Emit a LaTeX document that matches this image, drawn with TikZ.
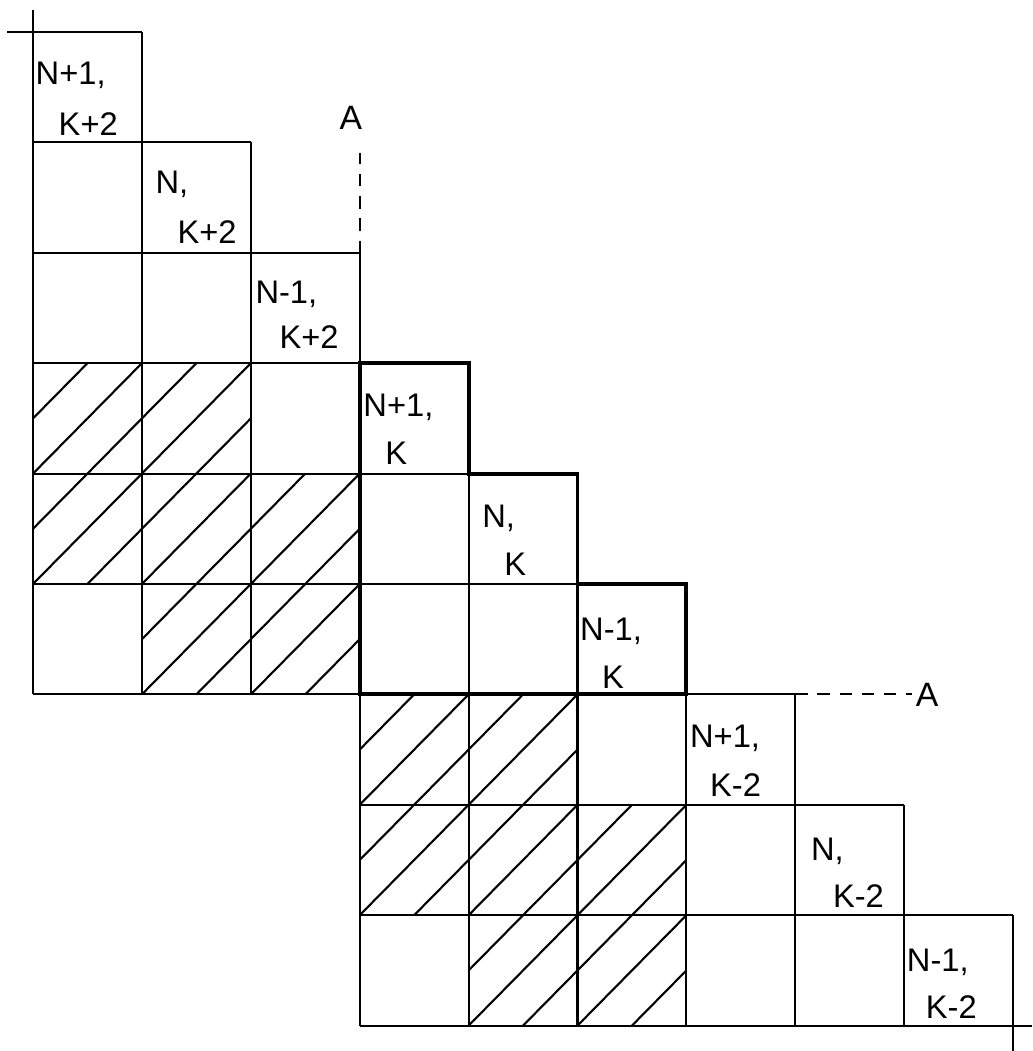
\documentclass[tikz,border=0pt]{standalone}
\usepackage{fontspec}
\setmainfont{Liberation Sans}
\begin{document}
\begin{tikzpicture}[
  gridline/.style={line width=0.6pt},
  thickline/.style={line width=1.1pt, line join=miter},
  hatchline/.style={line width=0.6pt},
  dashline/.style={line width=0.6pt, dash pattern=on 3.5pt off 2.8pt},
  lbl/.style={anchor=base west, inner sep=0pt, font=\fontsize{9.3}{11}\selectfont},
  alabel/.style={anchor=center, inner sep=0pt, font=\fontsize{9.6}{11}\selectfont}
]
\useasboundingbox (0,0) rectangle (10.32,-10.51);
\fill[white] (0,0) rectangle (10.32,-10.51);
\begin{scope}[shift={(0.33cm,-0.32cm)}, x=1.089cm, y=-1.104cm]
  % hatching
  \foreach \c/\r in {0/3,1/3,0/4,1/4,2/4,1/5,2/5,3/6,4/6,3/7,4/7,5/7,4/8,5/8}{
    \draw[hatchline] (\c,\r+0.5) -- (\c+0.5,\r)
                     (\c,\r+1) -- (\c+1,\r)
                     (\c+0.5,\r+1) -- (\c+1,\r+0.5);
  }
  % upper-left block
  \draw[gridline] (-0.24,0) -- (1,0);
  \draw[gridline] (0,1) -- (2,1);
  \draw[gridline] (0,2) -- (3,2);
  \draw[gridline] (0,3) -- (3,3);
  \draw[gridline] (0,4) -- (4,4);
  \draw[gridline] (0,5) -- (5,5);
  \draw[gridline] (0,6) -- (3,6);
  \draw[gridline] (0,-0.2) -- (0,6);
  \draw[gridline] (1,0) -- (1,6);
  \draw[gridline] (2,1) -- (2,6);
  \draw[gridline] (3,2) -- (3,9);
  \draw[gridline] (4,4) -- (4,9);
  \draw[gridline] (5,5) -- (5,9);
  % lower-right block
  \draw[gridline] (6,6) -- (7,6);
  \draw[gridline] (3,7) -- (8,7);
  \draw[gridline] (3,8) -- (9,8);
  \draw[gridline] (3,9) -- (9.17,9);
  \draw[gridline] (6,6) -- (6,9);
  \draw[gridline] (7,6) -- (7,9);
  \draw[gridline] (8,7) -- (8,9);
  \draw[gridline] (9,8) -- (9,9.23);
  % middle block outline
  \draw[thickline] (3,3) -- (4,3) -- (4,4) -- (5,4) -- (5,5) -- (6,5) -- (6,6) -- (3,6) -- cycle;
  % section A-A
  \coordinate (av) at (3,1.1);
  \coordinate (ah) at (8.07,6);
  \draw[dashline] (3,2) -- (av);
  \draw[dashline] (7,6) -- (ah);
  \node[alabel] (A1) at (2.92,0.78) {A};
  \node[alabel] (A2) at (8.21,6.0) {A};
  % labels
  \node[lbl] (a0) at (0+2/108.9, 0+53/110.4) {N+1,};
  \node[lbl] (b0) at (0+25/108.9, 0+104/110.4) {K+2};
  \node[lbl] (a1) at (1+13/108.9, 1+51/110.4) {N,};
  \node[lbl] (b1) at (1+35/108.9, 1+101/110.4) {K+2};
  \node[lbl] (a2) at (2+4/108.9, 2+51/110.4) {N-1,};
  \node[lbl] (b2) at (2+28/108.9, 2+96/110.4) {K+2};
  \node[lbl] (a3) at (3+3/108.9, 3+53/110.4) {N+1,};
  \node[lbl] (b3) at (3+25/108.9, 3+101/110.4) {K};
  \node[lbl] (a4) at (4+13/108.9, 4+54/110.4) {N,};
  \node[lbl] (b4) at (4+35/108.9, 4+102/110.4) {K};
  \node[lbl] (a5) at (5+2/108.9, 5+56/110.4) {N-1,};
  \node[lbl] (b5) at (5+24/108.9, 5+104/110.4) {K};
  \node[lbl] (a6) at (6+3/108.9, 6+53/110.4) {N+1,};
  \node[lbl] (b6) at (6+23/108.9, 6+102/110.4) {K-2};
  \node[lbl] (a7) at (7+15/108.9, 7+56/110.4) {N,};
  \node[lbl] (b7) at (7+37/108.9, 7+103/110.4) {K-2};
  \node[lbl] (a8) at (8+2/108.9, 8+56/110.4) {N-1,};
  \node[lbl] (b8) at (8+21/108.9, 8+103/110.4) {K-2};
\end{scope}
\end{tikzpicture}
\end{document}
